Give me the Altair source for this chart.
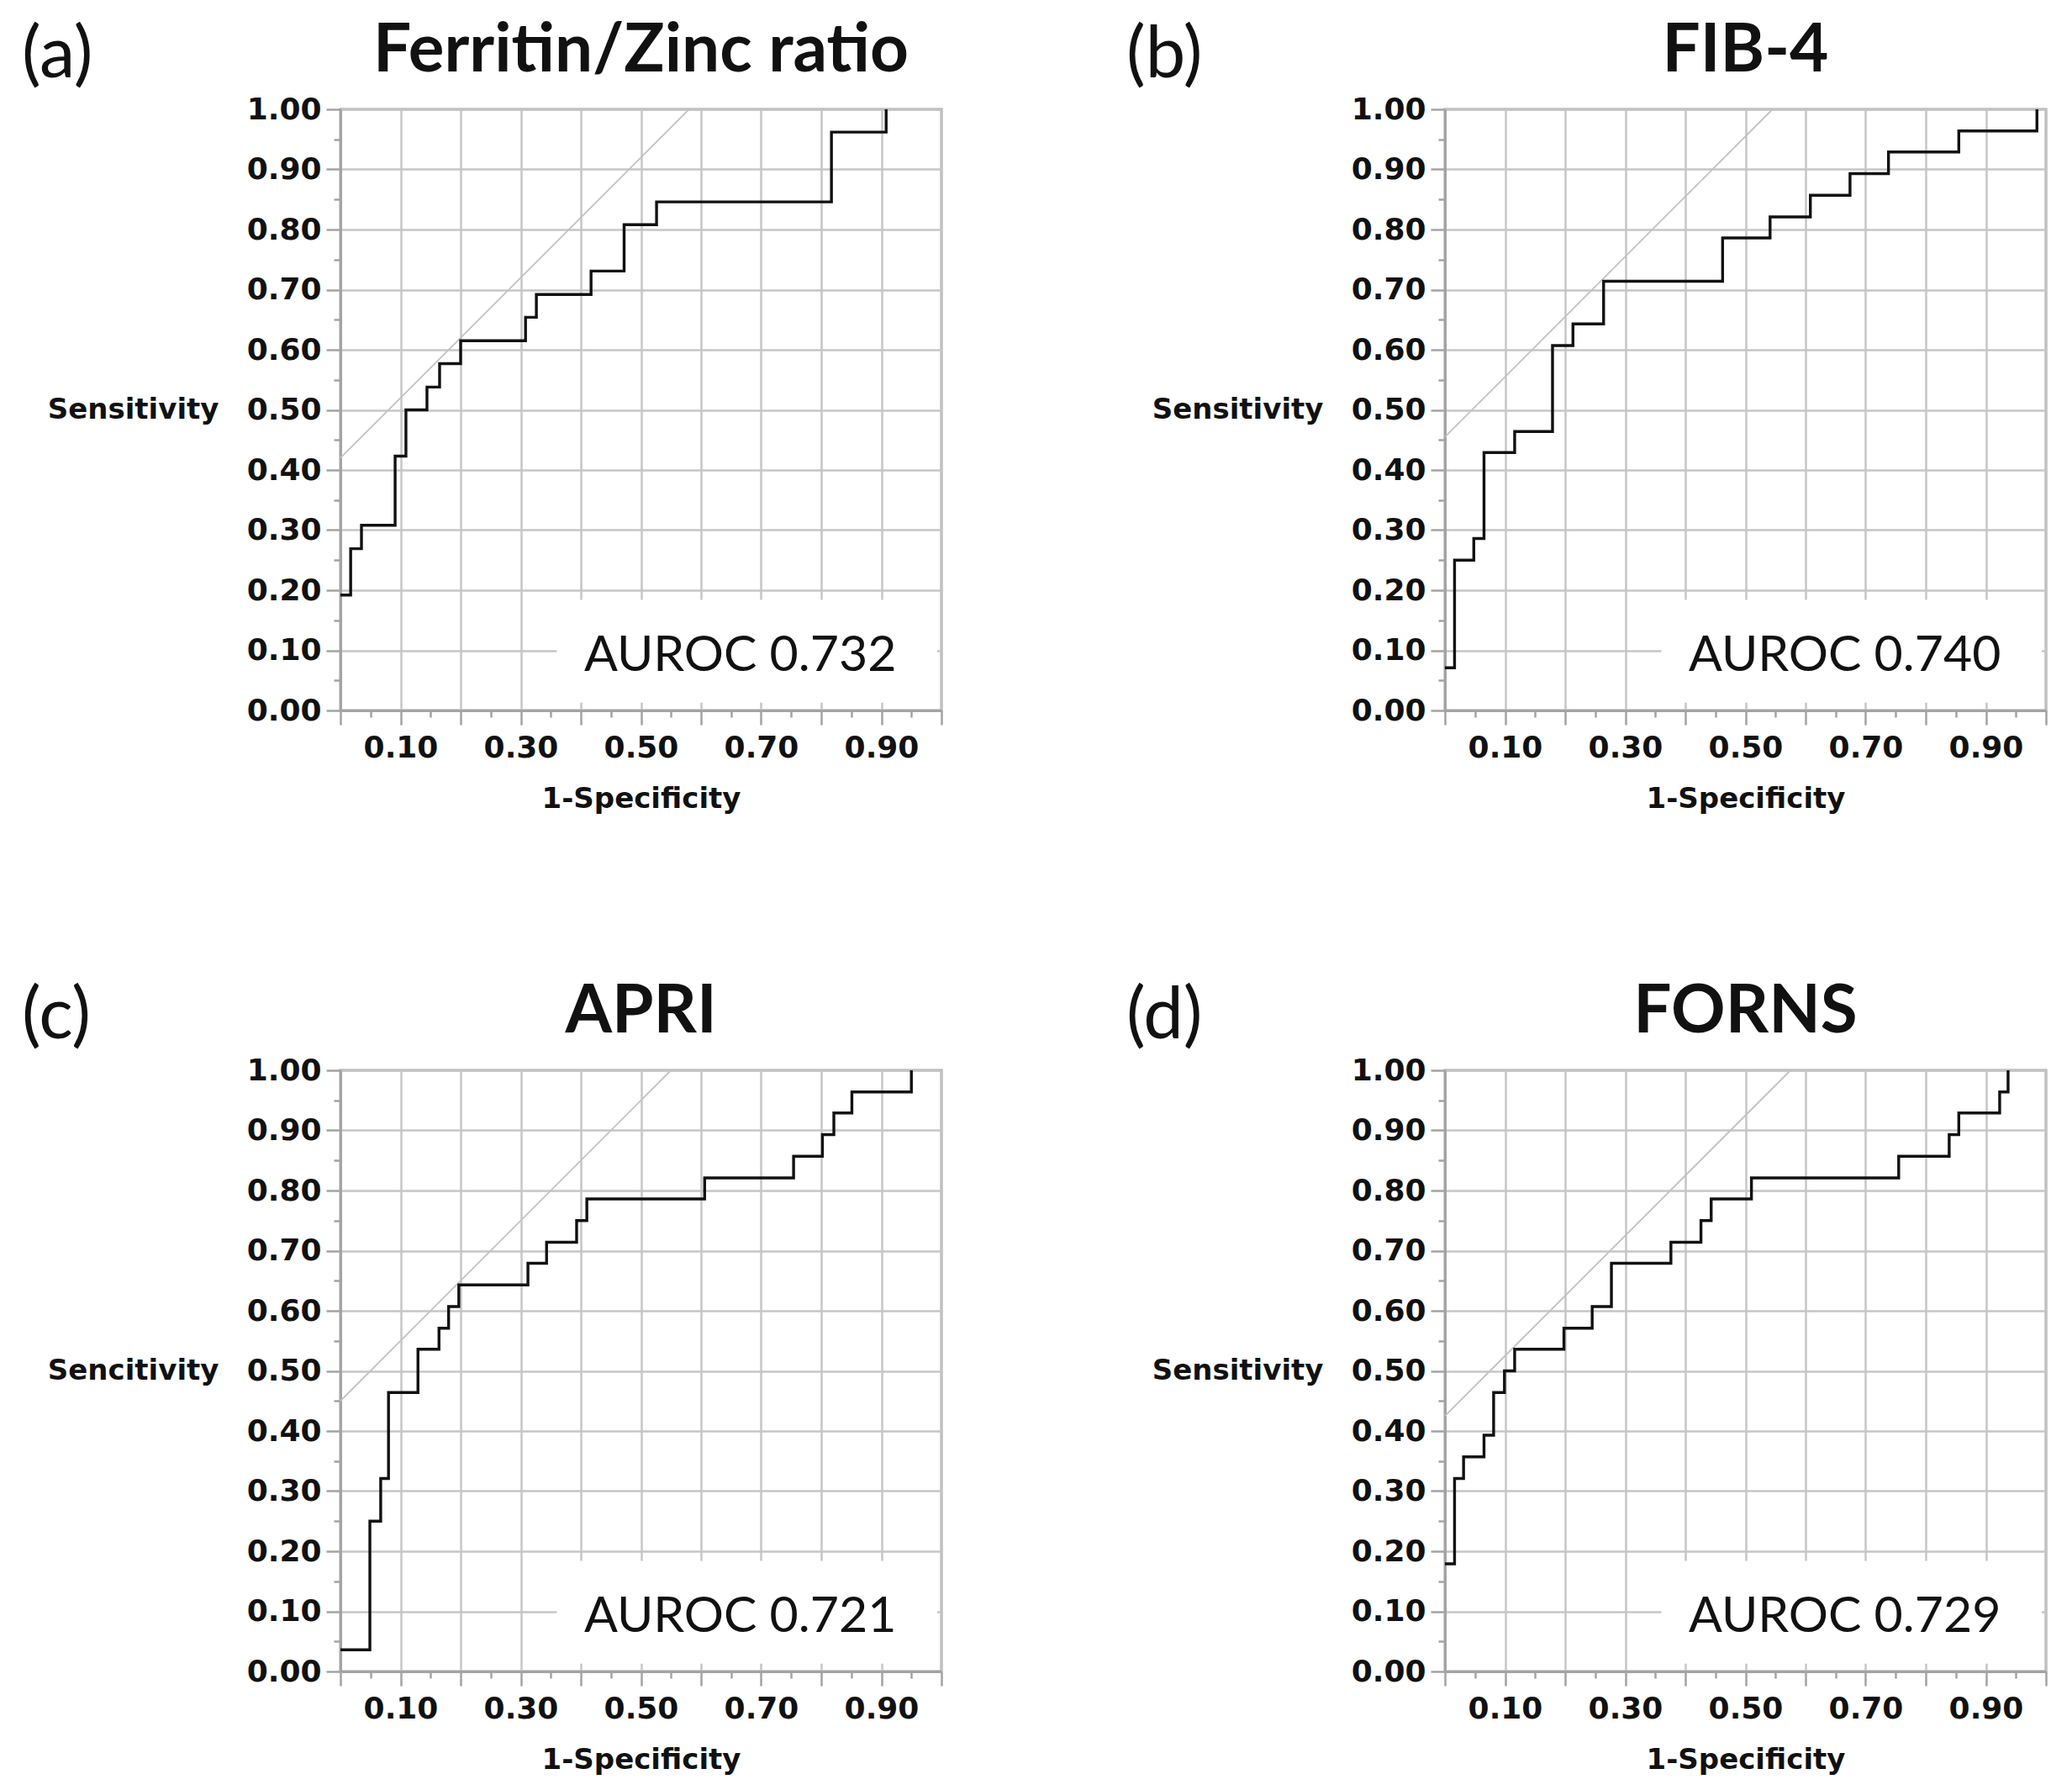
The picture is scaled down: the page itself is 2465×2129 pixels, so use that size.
import altair as alt
import pandas as pd

# ---------------- data ----------------
letters = ["(a)", "(b)", "(c)", "(d)"]
titles = ["Ferritin/Zinc ratio", "FIB-4", "APRI", "FORNS"]
auroc_labels = ["AUROC 0.732", "AUROC 0.740", "AUROC 0.721", "AUROC 0.729"]
y_titles = ["Sensitivity", "Sensitivity", "Sencitivity", "Sensitivity"]
x_title = "1-Specificity"

# ROC step points (1-specificity, sensitivity)
fpr_a = [0.0, 0.017, 0.035, 0.091, 0.109, 0.144, 0.165, 0.200, 0.308, 0.326, 0.417, 0.472, 0.526, 0.817, 0.908]
tpr_a = [0.192, 0.269, 0.308, 0.423, 0.500, 0.538, 0.577, 0.615, 0.654, 0.692, 0.731, 0.808, 0.846, 0.962, 1.0]

fpr_b = [0.0, 0.016, 0.048, 0.065, 0.116, 0.179, 0.213, 0.264, 0.462, 0.541, 0.608, 0.674, 0.738, 0.855, 0.985]
tpr_b = [0.071, 0.250, 0.286, 0.429, 0.464, 0.607, 0.643, 0.714, 0.786, 0.821, 0.857, 0.893, 0.929, 0.964, 1.0]

fpr_c = [0.0, 0.049, 0.067, 0.080, 0.129, 0.164, 0.180, 0.197, 0.312, 0.343, 0.393, 0.410, 0.606, 0.754, 0.802, 0.821, 0.851, 0.950]
tpr_c = [0.036, 0.250, 0.321, 0.464, 0.536, 0.571, 0.607, 0.643, 0.679, 0.714, 0.750, 0.786, 0.821, 0.857, 0.893, 0.929, 0.964, 1.0]

fpr_d = [0.0, 0.016, 0.031, 0.065, 0.081, 0.099, 0.116, 0.198, 0.245, 0.277, 0.376, 0.426, 0.443, 0.510, 0.755, 0.839, 0.855, 0.923, 0.937]
tpr_d = [0.179, 0.321, 0.357, 0.393, 0.464, 0.500, 0.536, 0.571, 0.607, 0.679, 0.714, 0.750, 0.786, 0.821, 0.857, 0.893, 0.929, 0.964, 1.0]

# intercept of the slope-1 tangent line drawn in each panel
tangent_intercepts = [0.42, 0.455, 0.45, 0.425]

# axis tick positions (major every 0.1, minor every 0.05)
tick_values = [0.0, 0.05, 0.1, 0.15, 0.2, 0.25, 0.3, 0.35, 0.4, 0.45, 0.5,
               0.55, 0.6, 0.65, 0.7, 0.75, 0.8, 0.85, 0.9, 0.95, 1.0]

fprs = [fpr_a, fpr_b, fpr_c, fpr_d]
tprs = [tpr_a, tpr_b, tpr_c, tpr_d]

# ---------------- styling ----------------
W = 715
H = 715
AXIS_GRAY = "#a3a3a3"
GRID_GRAY = "#c6c6c6"
INK = "#111111"
TICK_FONT = "DejaVu Sans"
TEXT_FONT = "Lato"

MAJOR = "abs(datum.value * 10 - round(datum.value * 10)) < 0.001"
LABEL_X = "indexof([10, 30, 50, 70, 90], round(datum.value * 100)) >= 0 ? format(datum.value, '.2f') : ''"
LABEL_Y = "abs(datum.value * 10 - round(datum.value * 10)) < 0.001 ? format(datum.value, '.2f') : ''"

common_axis = dict(
    values=tick_values,
    labelFont=TICK_FONT, labelFontWeight="bold", labelFontSize=36, labelColor=INK,
    labelFlush=False, labelOverlap=False,
    tickSize={"condition": {"test": MAJOR, "value": 17}, "value": 8},
    tickColor=AXIS_GRAY, tickWidth=2.5,
    gridColor=GRID_GRAY, gridWidth=2.5,
    gridOpacity={"condition": {"test": MAJOR, "value": 1}, "value": 0},
    domainColor=AXIS_GRAY, domainWidth=3,
    titleFont=TICK_FONT, titleFontWeight="bold", titleFontSize=34, titleColor=INK,
)


def panel(i):
    roc = pd.DataFrame({"fpr": fprs[i], "tpr": tprs[i]})
    b = tangent_intercepts[i]
    tangent = pd.DataFrame({"fpr": [0.0, 1.0 - b], "tpr": [b, 1.0]})
    box = pd.DataFrame({"fpr": [0.36], "fpr2": [0.993], "tpr": [0.013], "tpr2": [0.184]})
    label = pd.DataFrame({"fpr": [0.925], "tpr": [0.066], "text": [auroc_labels[i]]})
    letter = pd.DataFrame({"text": [letters[i]]})
    heading = pd.DataFrame({"text": [titles[i]]})

    x_axis = alt.Axis(labelExpr=LABEL_X, labelPadding=10,
                      titleBaseline="top", titleY=88, **common_axis)
    y_axis = alt.Axis(labelExpr=LABEL_Y, labelPadding=6,
                      titleAngle=0, titleAlign="right", titleBaseline="middle",
                      titleX=-145, titleY=H / 2, **common_axis)

    xs = alt.Scale(domain=[0, 1], nice=False, zero=False)
    ys = alt.Scale(domain=[0, 1], nice=False, zero=False)
    X = alt.X("fpr:Q", scale=xs, axis=x_axis, title=x_title)
    Y = alt.Y("tpr:Q", scale=ys, axis=y_axis, title=y_titles[i])

    box_l = alt.Chart(box).mark_rect(color="white").encode(
        x=X, x2=alt.X2("fpr2:Q"), y=Y, y2=alt.Y2("tpr2:Q"))
    tangent_l = alt.Chart(tangent).mark_line(color="#c2c2c2", strokeWidth=1.8).encode(x=X, y=Y)
    roc_l = alt.Chart(roc).mark_line(color=INK, strokeWidth=3.4, interpolate="step-after").encode(x=X, y=Y)
    text_l = alt.Chart(label).mark_text(font=TEXT_FONT, fontSize=59, align="right",
                                        baseline="alphabetic", color=INK).encode(
        x=X, y=Y, text="text:N")
    letter_l = alt.Chart(letter).mark_text(font=TEXT_FONT, fontSize=85, align="left",
                                           baseline="alphabetic", color=INK).encode(
        x=alt.value(-379), y=alt.value(-38), text="text:N")
    heading_l = alt.Chart(heading).mark_text(font=TEXT_FONT, fontSize=80, fontWeight="bold",
                                             align="center", baseline="alphabetic", color=INK).encode(
        x=alt.value(W / 2), y=alt.value(-45), text="text:N")

    return alt.layer(box_l, tangent_l, roc_l, text_l, letter_l, heading_l).properties(
        width=W, height=H,
    )


chart = alt.concat(
    panel(0), panel(1), panel(2), panel(3),
    columns=2, spacing={"row": 428, "column": 599}, bounds="flush",
).properties(
    padding={"left": 24, "top": 19, "right": 10, "bottom": 10},
    background="white",
).configure_view(stroke=AXIS_GRAY, strokeWidth=3)

chart.save("out.html", embed_options={"renderer": "svg", "actions": False})
